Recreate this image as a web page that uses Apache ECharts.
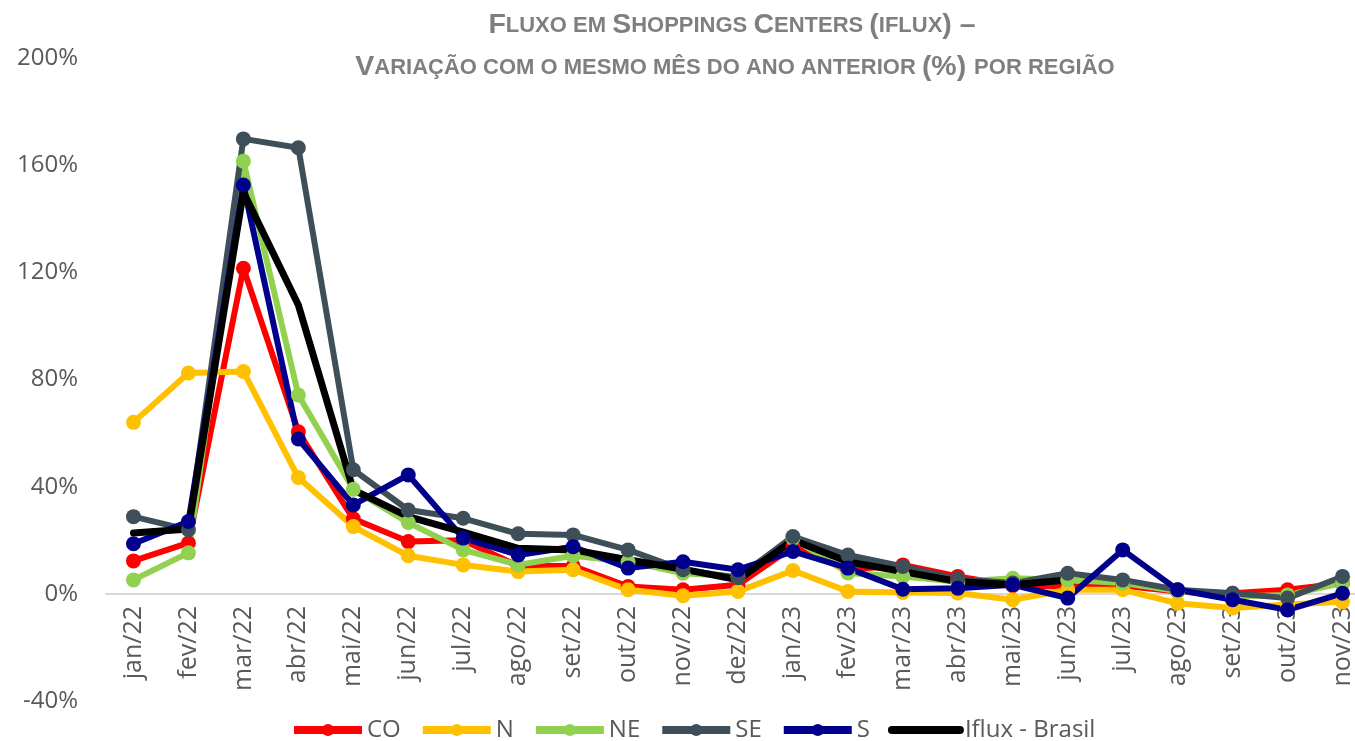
<!DOCTYPE html>
<html>
<head>
<meta charset="utf-8">
<script src="https://cdn.jsdelivr.net/npm/echarts@6/dist/echarts.min.js"></script>
<style>
  html, body { margin: 0; padding: 0; background: #fff; }
  #chart { width: 1355px; height: 741px; }
</style>
</head>
<body>
<div id="chart"></div>
<script>
// meses
let months = ['jan/22','fev/22','mar/22','abr/22','mai/22','jun/22','jul/22','ago/22','set/22','out/22','nov/22','dez/22',
              'jan/23','fev/23','mar/23','abr/23','mai/23','jun/23','jul/23','ago/23','set/23','out/23','nov/23']

// variacao (%) por regiao
let CO     = [12.3, 19, 121.5, 60.5, 28, 19.5, 20, 10.4, 10.4, 2.7, 1.5, 3.4, 17.6, 9, 10.8, 6.5, 3, 2.7, 3, 0.9, 0.2, 1.5, 4]
let N      = [64, 82.4, 83, 43.4, 25.1, 14.2, 10.8, 8.3, 9, 1.5, -0.7, 0.9, 8.7, 0.9, 0.5, 0.3, -2.2, 1.5, 1.5, -3.5, -5.3, -4, -3]
let NE     = [5.2, 15.3, 161.5, 74.2, 39, 26.6, 16.4, 10.8, 14.2, 12, 7.7, 6.5, 20.7, 7.8, 6.5, 4.5, 5.8, 5.2, 4, 1, -1, -0.4, 4]
let SE     = [28.8, 23.9, 169.8, 166.5, 46.3, 31.3, 28.2, 22.4, 22, 16.4, 9, 6, 21.4, 14.5, 10.2, 5.5, 4, 7.7, 5.2, 1.5, 0.2, -1.6, 6.5]
let S      = [18.7, 27, 152.6, 57.8, 33.2, 44.4, 20.8, 14.5, 17.6, 9.6, 12, 9, 15.8, 9.6, 1.7, 2.1, 3.4, -1.6, 16.4, 1.5, -2.2, -6, 0.2]
let Brasil = [22.7, 24.2, 150, 107.8, 38.8, 28.8, 23, 17, 16.4, 12.7, 9.2, 5.2, 20.1, 12, 8.3, 4.6, 3.4, 5.2]

let yTicks = { min: -40, max: 200, step: 40 }

// versalete feito na mao (canvas nao tem small-caps)
function smallCaps(txt) {
    let out = ''
    let cur = null
    let buf = ''
    for (let ch of txt) {
        let isLow = ch !== ch.toUpperCase()
        let st = isLow || ch === ' ' ? 's' : 'b'
        if (ch === ' ' && cur) st = cur
        if (st !== cur && buf) { out += `{${cur}|${buf}}`; buf = '' }
        cur = st
        buf += ch.toUpperCase()
    }
    if (buf) out += `{${cur}|${buf}}`
    return out
}

let titleFont = 'Liberation Sans, Arial, sans-serif'
let titleRich = {
    b: { fontSize: 28.5, fontWeight: 'bold', color: '#7f7f7f', fontFamily: titleFont },
    s: { fontSize: 22, fontWeight: 'bold', color: '#7f7f7f', fontFamily: titleFont }
}

let colors = { CO: '#ff0000', N: '#ffc000', NE: '#92d050', SE: '#3e4f59', S: '#00008c', Brasil: '#000000' }

function mk(name, data) {
    return {
        name: name,
        type: 'line',
        data: data,
        symbol: 'circle',
        symbolSize: 15,
        lineStyle: { width: 6, color: colors[name] },
        itemStyle: { color: colors[name] },
        emphasis: { disabled: true }
    }
}

var myChart = echarts.init(document.getElementById('chart'))

var option = {
    animation: false,
    title: [{
        text: smallCaps('Fluxo em Shoppings Centers (iflux) –'),
        left: 727, top: 6, textAlign: 'center',
        textStyle: { rich: titleRich }
    }, {
        text: smallCaps('Variação com o mesmo mês do ano anterior (%) por região'),
        left: 730, top: 48, textAlign: 'center',
        textStyle: { rich: titleRich }
    }],
    legend: {
        top: 713,
        left: 285,
        itemWidth: 68,
        itemHeight: 15,
        itemGap: 18,
        lineStyle: { width: 8 },
        textStyle: { fontSize: 24, color: '#595959', fontFamily: 'Open Sans, sans-serif' },
        data: ['CO', 'N', 'NE', 'SE', 'S', { name: 'Iflux - Brasil', itemStyle: { opacity: 0 } }]
    },
    grid: { left: 106, right: -15, top: 58, bottom: 40, outerBoundsMode: 'none' },
    xAxis: {
        type: 'category',
        data: months,
        boundaryGap: true,
        axisLine: { lineStyle: { color: '#d9d9d9', width: 2 } },
        axisTick: { show: false },
        // rotulos logo abaixo da linha do zero
        axisLabel: { rotate: 90, fontSize: 25, color: '#595959', margin: -95, interval: 0, fontFamily: 'Open Sans, sans-serif' }
    },
    yAxis: {
        type: 'value',
        min: yTicks.min, max: yTicks.max, interval: yTicks.step,
        splitLine: { show: false },
        axisLine: { show: false },
        axisTick: { show: false },
        axisLabel: { fontSize: 24, color: '#595959', margin: 28, formatter: '{value}%', fontFamily: 'Open Sans, sans-serif' }
    },
    series: [
        mk('CO', CO), mk('N', N), mk('NE', NE), mk('SE', SE), mk('S', S),
        {
            name: 'Iflux - Brasil',
            type: 'line',
            data: Brasil,
            symbol: 'none',
            lineStyle: { width: 7, color: colors.Brasil, cap: 'round' },
            itemStyle: { color: colors.Brasil },
            emphasis: { disabled: true }
        }
    ]
}

myChart.setOption(option)
</script>
</body>
</html>
